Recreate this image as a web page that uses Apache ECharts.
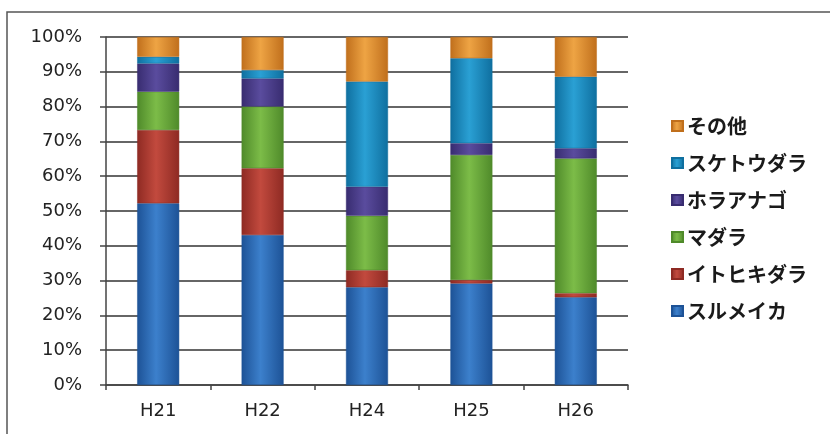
<!DOCTYPE html>
<html>
<head>
<meta charset="utf-8">
<script src="https://cdn.jsdelivr.net/npm/echarts@6/dist/echarts.min.js"></script>
<style>
  html, body { margin: 0; padding: 0; background: #ffffff; }
  #chart { width: 830px; height: 434px; }
</style>
</head>
<body>
<div id="chart"></div>
<script>
// Fiscal years on the category axis
const years = ['H21', 'H22', 'H24', 'H25', 'H26'];

// Share of the catch by species (%), stacked bottom to top
const surumeika   = [52.2, 43.1, 28.1, 29.2, 25.2];
const itohikidara = [21.1, 19.2,  4.9,  1.0,  1.2];
const madara      = [11.0, 17.7, 15.6, 35.9, 38.7];
const horaanago   = [ 8.1,  8.1,  8.4,  3.4,  2.9];
const suketoudara = [ 1.9,  2.4, 30.2, 24.4, 20.6];
const sonota      = [ 5.7,  9.5, 12.8,  6.1, 11.4];

// Value axis ticks
const yMin = 0, yMax = 100, yStep = 10;

const seriesDefs = [
  { name: 'スルメイカ',   data: surumeika,   c: ['#1d5296', '#3c80cc', '#1d5296'] },
  { name: 'イトヒキダラ', data: itohikidara, c: ['#8e2a23', '#c24a3e', '#8e2a23'] },
  { name: 'マダラ',       data: madara,      c: ['#4f8a2a', '#7cbc48', '#4f8a2a'] },
  { name: 'ホラアナゴ',   data: horaanago,   c: ['#382c70', '#5a4c9e', '#382c70'] },
  { name: 'スケトウダラ', data: suketoudara, c: ['#0f6f9f', '#2aa0d4', '#0f6f9f'] },
  { name: 'その他',       data: sonota,      c: ['#c06f1c', '#eea444', '#c06f1c'] }
];

function barFill(c) {
  return new echarts.graphic.LinearGradient(0, 0, 1, 0, [
    { offset: 0, color: c[0] },
    { offset: 0.45, color: c[1] },
    { offset: 1, color: c[2] }
  ]);
}

const chart = echarts.init(document.getElementById('chart'), null, { renderer: 'canvas' });

chart.setOption({
  backgroundColor: '#ffffff',
  animation: false,
  grid: { left: 106, right: 202, top: 37, bottom: 49, containLabel: false },
  legend: {
    orient: 'vertical',
    left: 666,
    top: 110,
    itemWidth: 11,
    itemHeight: 10,
    itemGap: 15,
    icon: 'rect',
    data: ['その他', 'スケトウダラ', 'ホラアナゴ', 'マダラ', 'イトヒキダラ', 'スルメイカ'],
    textStyle: {
      fontFamily: '"Noto Sans CJK JP", sans-serif',
      fontSize: 20,
      fontWeight: 'bold',
      color: '#1a1a1a',
      lineHeight: 22,
      padding: [0, 0, 0, -1]
    }
  },
  xAxis: {
    type: 'category',
    data: years,
    axisLine: { lineStyle: { color: '#444', width: 1.5 } },
    axisTick: { show: true, length: 5, lineStyle: { color: '#444', width: 1.5 } },
    axisLabel: {
      margin: 17,
      fontFamily: '"DejaVu Sans", sans-serif',
      fontSize: 18,
      color: '#222'
    }
  },
  yAxis: {
    type: 'value',
    min: yMin,
    max: yMax,
    interval: yStep,
    axisLine: { show: true, lineStyle: { color: '#444', width: 1.5 } },
    axisTick: { show: true, length: 6, lineStyle: { color: '#444', width: 1.5 } },
    axisLabel: {
      formatter: '{value}%',
      margin: 24,
      fontFamily: '"DejaVu Sans", sans-serif',
      fontSize: 18,
      color: '#222'
    },
    splitLine: { show: true, lineStyle: { color: '#333', width: 1.6 } }
  },
  series: seriesDefs.map(s => ({
    name: s.name,
    type: 'bar',
    stack: 'share',
    barWidth: 42,
    data: s.data,
    itemStyle: {
      color: barFill(s.c),
      borderColor: s.c[0],
      borderWidth: 0.5
    },
    emphasis: { disabled: true }
  })),
  graphic: [
    {
      type: 'polyline',
      silent: true,
      shape: { points: [[7, 434], [7, 12], [830, 12]] },
      style: { stroke: '#555', lineWidth: 1.5, fill: null }
    }
  ]
});
</script>
</body>
</html>
